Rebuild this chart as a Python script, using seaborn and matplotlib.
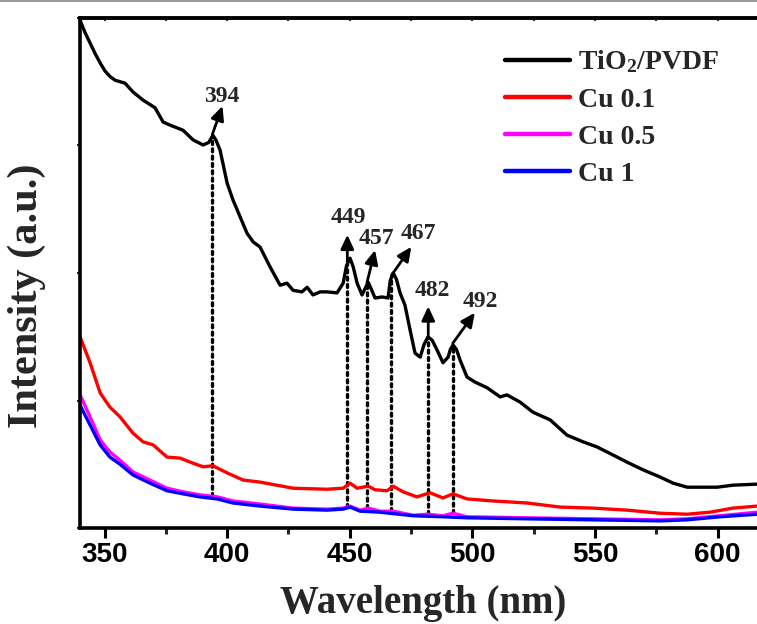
import numpy as np
import pandas as pd
import matplotlib
matplotlib.use("Agg")
import matplotlib.pyplot as plt
from matplotlib.lines import Line2D
import seaborn as sns

# ---------------- data ----------------
wl_tio2 = [340, 342.0, 344.1, 346.2, 348.2, 350.2, 352.3, 354.3, 358.4, 361.6, 365.7, 370.6,
           373.9, 376.7, 382.0, 386.1, 390.2, 392.5, 394.2, 395.5, 397.1, 398.5, 400.0, 402.4,
           405.3, 408.1, 410.6, 413.4, 417.5, 421.6, 424.4, 426.9, 430.5, 432.6, 435.0, 437.9,
           440.7, 444.8, 447.3, 448.7, 450.1, 451.4, 453.0, 455.0, 456.3, 457.5, 458.8, 460.3,
           463.2, 465.6, 466.5, 467.7, 469.0, 470.5, 472.5, 474.6, 476.6, 478.7, 480.3, 481.9,
           483.6, 485.6, 488.0, 490.1, 491.0, 492.1, 493.5, 495.0, 497.8, 501.1, 506.0, 511.3,
           514.1, 519.4, 524.7, 531.7, 538.6, 545.1, 550.8, 557.4, 563.1, 569.6, 576.5, 581.8,
           587.6, 592.9, 599.8, 606.3, 616.1]
int_tio2 = [99.6, 97.2, 95.1, 93.0, 91.2, 89.6, 88.5, 87.8, 87.2, 85.5, 83.9, 82.4,
            79.6, 79.0, 78.0, 76.1, 75.1, 75.6, 77.0, 76.0, 74.1, 71.0, 67.6, 64.3,
            61.0, 57.8, 56.1, 55.1, 51.2, 47.6, 48.0, 46.6, 46.3, 47.2, 45.7, 46.3,
            46.3, 46.1, 48.0, 51.5, 52.9, 51.2, 48.0, 45.7, 47.0, 48.2, 46.8, 45.1,
            45.3, 45.1, 48.5, 50.0, 48.8, 46.1, 43.7, 38.8, 34.3, 33.5, 36.0, 37.5,
            36.8, 34.9, 32.4, 33.5, 35.0, 35.9, 35.0, 32.9, 29.6, 28.6, 27.5, 25.7,
            26.1, 24.7, 22.7, 21.2, 18.2, 16.9, 15.9, 14.3, 12.9, 11.4, 10.0, 8.8,
            8.0, 8.0, 8.0, 8.4, 8.6]

wl_cu01 = [340, 344.1, 348.2, 352.2, 356.3, 361.6, 365.7, 369.8, 375.5, 380.8, 386.1, 390.2,
           394.2, 400.0, 406.5, 413.4, 426.9, 440.7, 447.3, 450.1, 453.0, 457.5, 460.3, 465.2,
           467.7, 471.7, 477.4, 482.7, 488.0, 492.1, 497.8, 508.4, 522.3, 535.8, 549.2, 563.1,
           576.5, 587.6, 596.9, 606.3, 616.1]
int_cu01 = [37.5, 32.4, 26.5, 23.7, 21.8, 18.6, 16.9, 16.3, 13.9, 13.7, 12.7, 12.0,
            12.2, 10.8, 9.4, 9.0, 7.8, 7.6, 7.8, 8.8, 7.8, 8.2, 7.5, 7.3,
            8.2, 7.1, 6.1, 6.9, 5.9, 6.7, 5.7, 5.3, 4.9, 4.1, 3.9, 3.5,
            2.9, 2.7, 3.1, 3.9, 4.3]

wl_cu05 = [340, 344.1, 348.2, 352.2, 356.3, 361.6, 368.5, 375.5, 382.0, 388.9, 395.9, 402.4,
           413.4, 426.9, 440.7, 447.3, 450.1, 454.2, 457.5, 462.3, 467.7, 475.8, 481.5, 488.0,
           492.1, 497.8, 522.3, 549.2, 576.5, 587.6, 601.0, 616.1]
int_cu05 = [26.1, 21.8, 17.3, 14.9, 13.3, 11.0, 9.4, 7.8, 7.1, 6.5, 6.1, 5.3,
            4.7, 3.9, 3.7, 3.9, 4.3, 3.5, 3.9, 3.3, 3.3, 2.5, 2.7, 2.4,
            2.9, 2.2, 2.0, 1.8, 1.6, 1.8, 2.4, 3.1]

wl_cu1 = [340, 344.1, 348.2, 352.2, 356.3, 361.6, 368.5, 375.5, 382.0, 388.9, 395.9, 402.4,
          413.4, 426.9, 440.7, 447.3, 450.1, 454.2, 462.3, 475.8, 488.0, 497.8, 522.3, 549.2,
          576.5, 587.6, 601.0, 616.1]
int_cu1 = [24.1, 20.2, 16.3, 13.9, 12.5, 10.4, 8.8, 7.3, 6.7, 6.1, 5.7, 4.9,
           4.3, 3.7, 3.5, 3.7, 4.1, 3.3, 3.1, 2.4, 2.2, 2.0, 1.8, 1.6,
           1.4, 1.6, 2.2, 2.7]

series_names = ["TiO$_\\mathbf{2}$/PVDF", "Cu 0.1", "Cu 0.5", "Cu 1"]
series_colors = ["#000000", "#ff0000", "#ff00ff", "#0000ff"]

peak_labels = [394, 449, 457, 467, 482, 492]
x_ticks = [350, 400, 450, 500, 550, 600]

# ---------------- style ----------------
sns.set_theme(style="white")
plt.rcParams["font.family"] = ["Liberation Serif", "DejaVu Serif"]
plt.rcParams["font.weight"] = "bold"
plt.rcParams["mathtext.fontset"] = "custom"
plt.rcParams["mathtext.rm"] = "Liberation Serif:bold"
plt.rcParams["mathtext.bf"] = "Liberation Serif:bold"
plt.rcParams["mathtext.it"] = "Liberation Serif:bold"

fig = plt.figure(figsize=(7.57, 6.24), dpi=100)
ax = fig.add_axes([80 / 757, 96 / 624, 686.7 / 757, 510 / 624])

all_wl = [wl_tio2, wl_cu01, wl_cu05, wl_cu1]
all_int = [int_tio2, int_cu01, int_cu05, int_cu1]
frames = []
for name, w, v in zip(series_names, all_wl, all_int):
    frames.append(pd.DataFrame({"wl": w, "I": v, "series": name}))
df = pd.concat(frames, ignore_index=True)

sns.lineplot(data=df, x="wl", y="I", hue="series", hue_order=series_names,
             palette=dict(zip(series_names, series_colors)), estimator=None,
             sort=False, linewidth=2.4, ax=ax, legend=False)
for ln in ax.get_lines():
    ln.set_solid_joinstyle("round")
    ln.set_solid_capstyle("round")

# dotted guide lines at peaks
for p in peak_labels:
    top = np.interp(p, wl_tio2, int_tio2)
    bot = np.interp(p, wl_cu05, int_cu05)
    ax.plot([p, p], [bot, top], color="black", lw=2.4, ls=(0, (0.9, 1.3)),
            dash_capstyle="round", zorder=1)

# arrow geometry (layout): (dx, dy to head), (label dx, label bottom dy)
arrow_geom = {394: (4.1, 5.5, 3.7, 5.4),
              449: (0.0, 5.3, 0.3, 6.6),
              457: (3.3, 6.4, 4.0, 6.6),
              467: (8.1, 5.6, 10.8, 6.1),
              482: (0.0, 5.6, 1.8, 6.6),
              492: (9.0, 6.0, 11.2, 6.2)}
for p in peak_labels:
    top = np.interp(p, wl_tio2, int_tio2) + 0.4
    dx, dy, lx, ly = arrow_geom[p]
    ax.annotate("", xy=(p + dx, top + dy), xytext=(p, top),
                arrowprops=dict(arrowstyle="-|>,head_length=0.6,head_width=0.28",
                                color="black", lw=2.0, shrinkA=0, shrinkB=0,
                                mutation_scale=14))
    ax.text(p + lx, top + ly, str(p), ha="center", va="bottom",
            fontsize=17, fontweight="bold", fontfamily="Liberation Serif")

ax.set_xlim(340, 620)
ax.set_ylim(0, 100)
ax.set_xticks(x_ticks)
ax.set_xticks(np.arange(375, 620, 50), minor=True)
ax.set_yticks([0, 25, 50, 75, 100])
ax.set_yticklabels([])
for lab in ax.get_xticklabels():
    lab.set_fontfamily("Liberation Sans")
    lab.set_fontweight("bold")
    lab.set_fontsize(20)
ax.tick_params(axis="x", which="major", direction="out", length=7, width=2.2,
               pad=3, top=False, bottom=True, colors="black")
ax.tick_params(axis="x", which="minor", direction="out", length=4, width=2.2,
               top=False, bottom=True)
ax.tick_params(axis="y", which="major", direction="out", length=2, width=1.5, left=True)

# small ticks along the top spine
sec = ax.secondary_xaxis("top")
sec.set_xticks(x_ticks)
sec.set_xticks(np.arange(375, 620, 50), minor=True)
sec.tick_params(axis="x", which="both", direction="in", length=2.5, width=1.5,
                labeltop=False)
sec.spines["top"].set_linewidth(2.6)

for side in ["left", "bottom", "top", "right"]:
    ax.spines[side].set_linewidth(2.6)
    ax.spines[side].set_color("black")

ax.set_xlabel("Wavelength (nm)", fontsize=28, fontweight="bold", labelpad=12)
ax.set_ylabel("Intensity (a.u.)", fontsize=30.5, fontweight="bold")
ax.yaxis.set_label_coords(-0.049, 0.455)

handles = [Line2D([], [], color=c, lw=3.2) for c in series_colors]
leg = ax.legend(handles, series_names, loc="upper left", bbox_to_anchor=(0.619, 0.94),
                frameon=False, fontsize=20, handlelength=2.35, handletextpad=0.28,
                labelspacing=0.42, borderaxespad=0, borderpad=0)
for t in leg.get_texts():
    t.set_fontweight("bold")

fig.add_artist(Line2D([0, 1], [0.9985, 0.9985], transform=fig.transFigure,
                      color="#999999", lw=1.5))

fig.savefig("out.png", dpi=100)
